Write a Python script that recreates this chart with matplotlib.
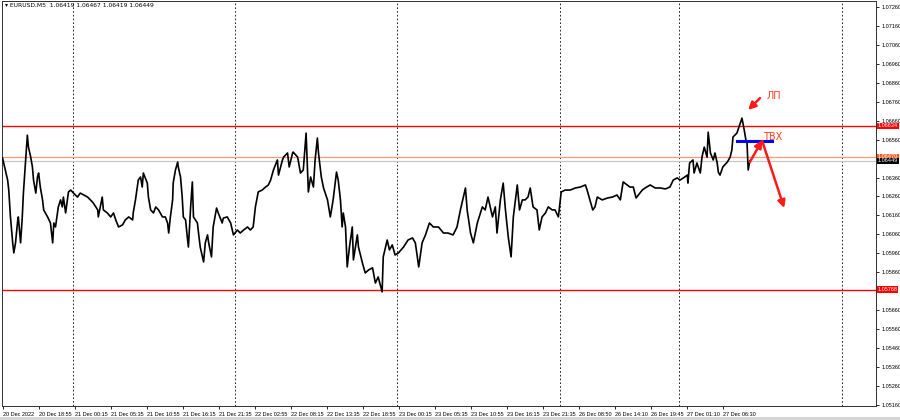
import matplotlib
matplotlib.use("Agg")
import matplotlib.pyplot as plt
import matplotlib.transforms as mtransforms

plt.rcParams['font.family'] = ['Liberation Sans', 'DejaVu Sans']

# EURUSD M5 price path (bar number, price)
bars = [0, 2, 9, 11, 14, 18, 20, 23, 27, 28, 32, 35, 37, 44, 46, 50, 53, 55, 59, 62,
        64, 67, 71, 73, 80, 85, 89, 91, 94, 99, 103, 106, 108, 112, 115, 117, 121, 126, 133, 138,
        144, 151, 156, 161, 169, 170, 177, 179, 186, 192, 197, 201, 206, 213, 218, 224, 231, 232, 236, 241,
        245, 248, 250, 257, 259, 263, 268, 272, 277, 284, 289, 293, 295, 298, 302, 303, 307, 311, 312, 316,
        319, 321, 325, 328, 330, 334, 337, 339, 346, 348, 351, 357, 360, 364, 366, 371, 374, 380, 383, 390,
        392, 399, 405, 410, 417, 422, 428, 435, 440, 445, 449, 454, 461, 467, 472, 476, 481, 488, 490, 497,
        499, 506, 509, 515, 516, 524, 529, 534, 539, 541, 543, 547, 552, 555, 559, 561, 566, 570, 577, 582,
        587, 593, 596, 600, 603, 605, 609, 612, 616, 621, 623, 630, 632, 639, 644, 650, 657, 662, 667, 674,
        676, 683, 687, 692, 697, 703, 712, 720, 728, 733, 739, 745, 751, 758, 765, 774, 783, 791, 800, 807,
        813, 822, 825, 831, 836, 843, 852, 857, 862, 870, 875, 878, 884, 889, 893, 898, 903, 907, 914, 918,
        923, 928, 933, 937, 942, 949, 953, 958, 964, 969, 976, 981, 987, 992, 999, 1008, 1017, 1026, 1035, 1038,
        1043, 1048, 1052, 1056, 1065, 1074, 1083, 1091, 1097, 1102, 1109, 1114, 1120, 1125, 1129, 1136, 1141, 1150, 1159, 1168,
        1177, 1185, 1191, 1198, 1203, 1209, 1216, 1217, 1220, 1226, 1228, 1233, 1239, 1242, 1246, 1251, 1253, 1257, 1262, 1265,
        1269, 1271, 1274, 1279, 1287, 1292, 1295, 1297, 1304, 1310, 1313, 1317, 1320, 1322, 1324, 1327]
prices = [1.06463, 1.06437, 1.06347, 1.06294, 1.06152, 1.06015, 1.05962, 1.06015, 1.06136, 1.06152,
          1.06015, 1.06152, 1.06278, 1.06584, 1.06521, 1.06468, 1.06416, 1.06347, 1.06278, 1.06363,
          1.06384, 1.06310, 1.06242, 1.06189, 1.06152, 1.06120, 1.06015, 1.06120, 1.06099, 1.06205,
          1.06242, 1.06205, 1.06257, 1.06173, 1.06242, 1.06284, 1.06294, 1.06278, 1.06257, 1.06278,
          1.06268, 1.06257, 1.06242, 1.06226, 1.06189, 1.06152, 1.06257, 1.06189, 1.06173, 1.06152,
          1.06173, 1.06136, 1.06099, 1.06110, 1.06136, 1.06152, 1.06136, 1.06173, 1.06242, 1.06347,
          1.06363, 1.06310, 1.06384, 1.06331, 1.06257, 1.06189, 1.06173, 1.06205, 1.06189, 1.06152,
          1.06152, 1.06120, 1.06067, 1.06152, 1.06242, 1.06331, 1.06400, 1.06442, 1.06416, 1.06363,
          1.06257, 1.06152, 1.06136, 1.06046, 1.05993, 1.06205, 1.06337, 1.06152, 1.06120, 1.06067,
          1.05993, 1.05914, 1.06015, 1.06057, 1.06015, 1.05941, 1.06099, 1.06199, 1.06173, 1.06120,
          1.06146, 1.06152, 1.06120, 1.06057, 1.06083, 1.06067, 1.06083, 1.06099, 1.06083, 1.06099,
          1.06205, 1.06284, 1.06294, 1.06310, 1.06321, 1.06347, 1.06400, 1.06453, 1.06373, 1.06453,
          1.06468, 1.06490, 1.06416, 1.06490, 1.06495, 1.06468, 1.06384, 1.06400, 1.06595, 1.06437,
          1.06284, 1.06363, 1.06310, 1.06453, 1.06569, 1.06490, 1.06363, 1.06305, 1.06242, 1.06152,
          1.06242, 1.06389, 1.06347, 1.06242, 1.06099, 1.06173, 1.06099, 1.05888, 1.05993, 1.06099,
          1.05925, 1.06057, 1.05993, 1.05909, 1.05856, 1.05872, 1.05883, 1.05803, 1.05835, 1.05756,
          1.05941, 1.06030, 1.05978, 1.06004, 1.05951, 1.05962, 1.05993, 1.06030, 1.06041, 1.06015,
          1.05888, 1.06015, 1.06057, 1.06120, 1.06099, 1.06099, 1.06067, 1.06067, 1.06057, 1.06099,
          1.06189, 1.06305, 1.06189, 1.06067, 1.06015, 1.06120, 1.06205, 1.06189, 1.06257, 1.06152,
          1.06205, 1.06067, 1.06242, 1.06331, 1.06189, 1.06046, 1.05941, 1.06152, 1.06321, 1.06189,
          1.06242, 1.06242, 1.06257, 1.06305, 1.06205, 1.06189, 1.06083, 1.06152, 1.06173, 1.06205,
          1.06189, 1.06189, 1.06152, 1.06284, 1.06294, 1.06294, 1.06305, 1.06310, 1.06321, 1.06294,
          1.06242, 1.06189, 1.06205, 1.06257, 1.06242, 1.06252, 1.06257, 1.06268, 1.06242, 1.06337,
          1.06321, 1.06310, 1.06310, 1.06252, 1.06268, 1.06294, 1.06305, 1.06321, 1.06305, 1.06305,
          1.06300, 1.06310, 1.06347, 1.06358, 1.06347, 1.06358, 1.06373, 1.06331, 1.06437, 1.06453,
          1.06384, 1.06437, 1.06384, 1.06468, 1.06521, 1.06468, 1.06600, 1.06490, 1.06453, 1.06490,
          1.06437, 1.06389, 1.06373, 1.06416, 1.06442, 1.06468, 1.06505, 1.06574, 1.06595, 1.06648,
          1.06674, 1.06611, 1.06558, 1.06542, 1.06400, 1.06449]

# horizontal levels
resist_level = 1.06634
support_level = 1.05768
ask_level = 1.06470
bid_level = 1.06449

# day separators (bar number)
day_breaks = [125, 413, 701, 989, 1202, 1490]

# time axis labels
time_labels = ["20 Dec 2022", "20 Dec 18:55", "21 Dec 00:15", "21 Dec 05:35", "21 Dec 10:55",
               "21 Dec 16:15", "21 Dec 21:35", "22 Dec 02:55", "22 Dec 08:15", "22 Dec 13:35",
               "22 Dec 18:55", "23 Dec 00:15", "23 Dec 05:35", "23 Dec 10:55", "23 Dec 16:15",
               "23 Dec 21:35", "26 Dec 08:50", "26 Dec 14:10", "26 Dec 19:45", "27 Dec 01:10",
               "27 Dec 06:30"]
time_ticks = [64 * i for i in range(len(time_labels))]

price_ticks = [1.05160 + 0.001 * i for i in range(22)]

# drawn objects on the chart (bar, price)
entry_line = ([1304, 1366], 1.06553)
lp_arrow = ((1345, 1.06780), (1324, 1.06717))
up_arrow = ((1327, 1.06442), (1349, 1.06558))
down_arrow = ((1349, 1.06553), (1388, 1.06199))
lp_text = (1356, 1.06790, "ЛП")
tvx_text = (1351, 1.06574, "ТВХ")

fig = plt.figure(figsize=(9, 4.2), dpi=100)
ax = fig.add_axes([2 / 900, 14 / 420, 874 / 900, 405 / 420])
ax.set_xlim(-1, 1551)
ax.set_ylim(1.05153, 1.07293)

for b in day_breaks:
    ax.axvline(b, color='black', lw=0.6, ls=(0, (2, 2.5)), zorder=1)

ax.axhline(resist_level, color='#FF0000', lw=1.0, zorder=2)
ax.axhline(support_level, color='#FF0000', lw=1.0, zorder=2)
ax.axhline(ask_level, color='#FF9A70', lw=0.9, zorder=2)
ax.axhline(bid_level, color='#C8C8C8', lw=0.9, zorder=2)

ax.plot(bars, prices, color='black', lw=1.2, zorder=3)

# drawn annotations
ax.plot(entry_line[0], [entry_line[1]] * 2, color='#0000FF', lw=2.2, zorder=4)
for tail, head in [lp_arrow, up_arrow, down_arrow]:
    ax.annotate('', xy=head, xytext=tail,
                arrowprops=dict(arrowstyle='-|>', color='#FF1A1A', lw=1.8,
                                mutation_scale=11, shrinkA=0, shrinkB=0), zorder=5)
for tx, ty, s in [lp_text, tvx_text]:
    ax.text(tx, ty, s, color='#FF3B1F', fontsize=7, ha='left', va='center',
            family=['DejaVu Sans'], zorder=5)

# axes; scale labels hidden where a price tag sits on top of them
tags = [(resist_level, '#FF0000'), (support_level, '#FF0000'),
        (ask_level, '#FF5A1E'), (bid_level, '#000000')]
ax.yaxis.tick_right()
ax.set_yticks(price_ticks)
ax.set_yticklabels(["" if any(abs(p - lv) < 0.0002 for lv, _ in tags) else f"{p:.5f}"
                    for p in price_ticks])
ax.set_xticks(time_ticks)
ax.set_xticklabels(time_labels, ha='left')
ax.tick_params(axis='both', labelsize=4, length=2.5, width=0.6, color='black', pad=1.5)
for sp in ax.spines.values():
    sp.set_linewidth(0.7)
    sp.set_color('#303030')

# price tags on the right scale
trans = mtransforms.blended_transform_factory(ax.transAxes, ax.transData)
for level, bg in tags:
    ax.text(1.002, level, f"{level:.5f}", transform=trans, fontsize=4, color='white',
            ha='left', va='center', clip_on=False, zorder=6,
            bbox=dict(boxstyle='square,pad=0.12', fc=bg, ec='none'))

# header
ax.text(0.004, 0.995, "\u25BE EURUSD,M5  1.06419 1.06467 1.06419 1.06449",
        transform=ax.transAxes, fontsize=4.3, ha='left', va='top',
        family=['DejaVu Sans'])

# bottom strip
fig.patches.append(plt.Rectangle((0, 0), 1, 3 / 420, transform=fig.transFigure,
                                 fc='#D4D4D4', ec='none'))

fig.savefig('out.png', dpi=100)
